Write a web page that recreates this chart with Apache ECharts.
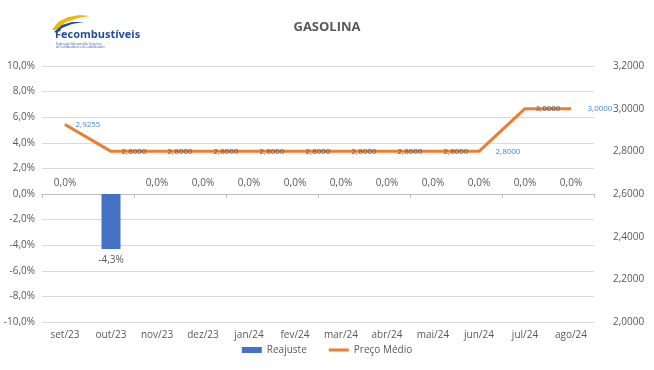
<!DOCTYPE html>
<html><head><meta charset="utf-8">
<script src="https://cdn.jsdelivr.net/npm/echarts@6/dist/echarts.min.js"></script>
<style>html,body{margin:0;padding:0;background:#fff}#c{width:654px;height:370px}</style>
</head><body><div id="c"></div>
<script>
const categories = ['set/23','out/23','nov/23','dez/23','jan/24','fev/24','mar/24','abr/24','mai/24','jun/24','jul/24','ago/24'];
const reajuste = [0, -4.3, 0, 0, 0, 0, 0, 0, 0, 0, 0, 0];
const precoMedio = [2.9255, 2.8, 2.8, 2.8, 2.8, 2.8, 2.8, 2.8, 2.8, 2.8, 3.0, 3.0];
const leftTicks = {min: -10, max: 10, interval: 2};
const rightTicks = {min: 2.0, max: 3.2, interval: 0.2};

const fmtComma = (v, d) => v.toFixed(d).replace('.', ',');
const gray = '#595959';
const blueLbl = '#4a86c5';
const FONT = '"Open Sans", sans-serif';

const chart = echarts.init(document.getElementById('c'));
chart.setOption({
  animation: false,
  textStyle: {fontFamily: FONT},
  grid: {left: 42, right: 60, top: 66, bottom: 48},
  graphic: [
    {type: 'text', left: 'center', top: 21, style: {text: 'GASOLINA', font: 'bold 13px ' + FONT, fill: '#595959'}},
    {type: 'polygon', shape: {points: [[52,30],[58,22],[68,17],[80,15],[90,16],[78,18],[66,22],[56,30]]}, style: {fill: '#f2b705'}},
    {type: 'polygon', shape: {points: [[54,32],[62,25],[72,22],[84,22],[72,24],[62,28],[57,33]]}, style: {fill: '#1f4e9c'}},
    {type: 'text', left: 55, top: 29, style: {text: 'Fecombustíveis', font: 'bold 11px ' + FONT, fill: '#1f4e9c'}},
    {type: 'text', left: 56, top: 42, style: {text: 'Federação Nacional do Comércio\nde Combustíveis e de Lubrificantes', font: '3px ' + FONT, fill: '#1f4e9c', lineHeight: 3.5}}
  ],
  legend: {
    bottom: 10, left: 'center', itemGap: 22, itemWidth: 20, itemHeight: 6,
    textStyle: {color: gray, fontSize: 10, fontFamily: FONT},
    data: [
      {name: 'Reajuste', icon: 'rect'},
      {name: 'Preço Médio', icon: 'path://M0,0 L20,0 L20,3 L0,3 Z'}
    ]
  },
  xAxis: [
    {type: 'category', data: categories, position: 'bottom',
     axisLine: {show: false, onZero: false}, axisTick: {show: false},
     axisLabel: {color: gray, fontSize: 10, margin: 8, fontFamily: FONT}},
    {type: 'category', data: categories, position: 'bottom',
     axisLine: {show: true, onZero: true, lineStyle: {color: '#bfbfbf', width: 1}},
     axisTick: {show: true, inside: false, length: 4, lineStyle: {color: '#bfbfbf'}},
     axisLabel: {show: false}}
  ],
  yAxis: [
    {type: 'value', min: leftTicks.min, max: leftTicks.max, interval: leftTicks.interval,
     axisLine: {show: false}, axisTick: {show: false},
     splitLine: {lineStyle: {color: '#d9d9d9'}},
     axisLabel: {color: gray, fontSize: 10, margin: 7, formatter: v => fmtComma(v, 1) + '%'}},
    {type: 'value', min: rightTicks.min, max: rightTicks.max, interval: rightTicks.interval,
     axisLine: {show: false}, axisTick: {show: false}, splitLine: {show: false},
     axisLabel: {color: gray, fontSize: 10, margin: 19, formatter: v => fmtComma(v, 4)}}
  ],
  series: [
    {name: 'Reajuste', type: 'bar', xAxisIndex: 0, yAxisIndex: 0, barWidth: 19,
     itemStyle: {color: '#4472c4'},
     data: reajuste.map(v => ({value: v, label: {position: v < 0 ? 'bottom' : 'top'}})),
     label: {show: true, color: gray, fontSize: 10, distance: 6, formatter: p => fmtComma(p.value, 1) + '%'}},
    {name: 'Preço Médio', type: 'line', xAxisIndex: 0, yAxisIndex: 1,
     symbol: 'circle', symbolSize: 1, showSymbol: true,
     lineStyle: {color: '#ed7d31', width: 3}, itemStyle: {color: '#ed7d31'},
     labelLayout: {hideOverlap: false},
     data: precoMedio.map((v, i) => {
       const edge = (i === 0 || i === 9 || i === precoMedio.length - 1);
       const lbl = {color: edge ? blueLbl : '#595959'};
       if (i === 9 || i === precoMedio.length - 1) lbl.distance = 16;
       return {value: v, label: lbl};
     }),
     label: {show: true, position: 'right', distance: 10, fontSize: 8, formatter: p => fmtComma(p.value, 4)}}
  ]
});
</script></body></html>
